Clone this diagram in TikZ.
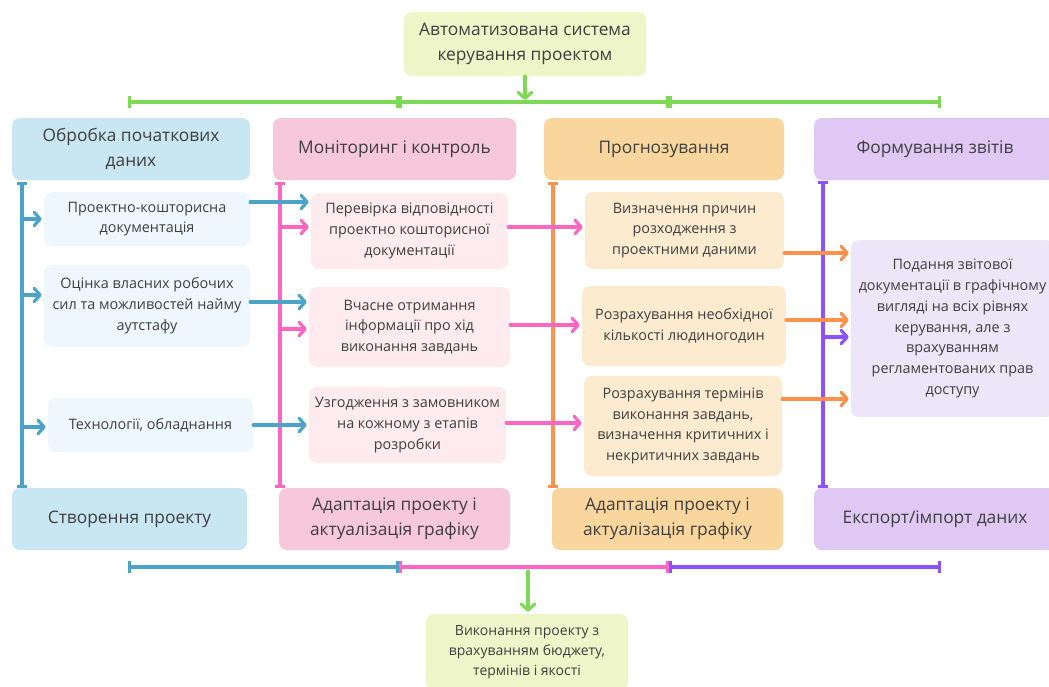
\documentclass[tikz,border=0pt]{standalone}
\usepackage{fontspec}
\setmainfont{Open Sans}
\usetikzlibrary{arrows.meta}
\definecolor{txt}{HTML}{3F3F3F}
\definecolor{fgreen}{HTML}{EEF5C9}
\definecolor{fblue}{HTML}{C9E6F3}
\definecolor{fpink}{HTML}{F7C7DA}
\definecolor{forange}{HTML}{F9D69D}
\definecolor{fpurple}{HTML}{DFC9F4}
\definecolor{lblue}{HTML}{EDF7FD}
\definecolor{lpink}{HTML}{FDEBF0}
\definecolor{lorange}{HTML}{FDEBD0}
\definecolor{lpurple}{HTML}{EDE5F8}
\definecolor{cgreen}{HTML}{7ED957}
\definecolor{cblue}{HTML}{4BA3C7}
\definecolor{cpink}{HTML}{FF66C4}
\definecolor{corange}{HTML}{FF914D}
\definecolor{cpurple}{HTML}{8C52FF}
\begin{document}
\begin{tikzpicture}[x=0.75pt,y=-0.75pt,
  box/.style n args={4}{at={({(#1+#3)/2},{(#2+#4)/2})},
    minimum width={(#3-#1)*0.75pt}, minimum height={(#4-#2)*0.75pt},
    rounded corners=6pt, inner sep=0pt, align=center, text=txt},
  hdr/.style={font=\fontsize{13}{19}\selectfont},
  sub/.style={font=\fontsize{10.8}{15.6}\selectfont},
  fin/.style={font=\fontsize{10.5}{15}\selectfont},
  ln/.style={line width=2.6pt, line cap=round},
  arr/.style={ln, -{Straight Barb[length=4.5pt,width=10pt,line width=2.4pt,round]}, shorten >=1.5pt},
  tee/.style={ln, {Bar[width=7pt,line width=2.4pt]}-{Bar[width=7pt,line width=2.4pt]}},
  tick/.style={ln, {Bar[width=9pt,line width=2.2pt]}-{Bar[width=9pt,line width=2.2pt]}}]
\useasboundingbox (0,0) rectangle (1049,686);

% top and final
\node[box={404}{12}{646}{76}, fill=fgreen, hdr] (top) {Автоматизована система\\керування проектом};
\node[box={426}{614}{628}{690}, fill=fgreen, fin] (final) {Виконання проекту з\\врахуванням бюджету,\\термінів і якості};

% headers
\node[box={12}{118}{250}{180}, fill=fblue, hdr] (h1) {Обробка початкових\\даних};
\node[box={273}{118}{516}{180}, fill=fpink, hdr] (h2) {Моніторинг і контроль};
\node[box={544}{118}{784}{180}, fill=forange, hdr] (h3) {Прогнозування};
\node[box={814}{118}{1056}{180}, fill=fpurple, hdr] (h4) {Формування звітів};

% bottom boxes
\node[box={12}{488}{247}{550}, fill=fblue, hdr] (f1) {Створення проекту};
\node[box={279}{488}{510}{550}, fill=fpink, hdr] (f2) {Адаптація проекту і\\актуалізація графіку};
\node[box={552}{488}{783}{550}, fill=forange, hdr] (f3) {Адаптація проекту і\\актуалізація графіку};
\node[box={814}{488}{1056}{550}, fill=fpurple, hdr] (f4) {Експорт/імпорт даних};

% sub boxes
\node[box={44}{192}{250}{246}, fill=lblue, sub] (s11) {Проектно-кошторисна\\документація};
\node[box={44}{265}{250}{347}, fill=lblue, sub] (s12) {Оцінка власних робочих\\сил та можливостей найму\\аутстафу};
\node[box={48}{398}{253}{452}, fill=lblue, sub] (s13) {Технології, обладнання};
\node[box={311}{193}{508}{269}, fill=lpink, sub] (s21) {Перевірка відповідності\\проектно кошторисної\\документації};
\node[box={309}{287}{510}{367}, fill=lpink, sub] (s22) {Вчасне отримання\\інформації про хід\\виконання завдань};
\node[box={309}{387}{506}{463}, fill=lpink, sub] (s23) {Узгодження з замовником\\на кожному з етапів\\розробки};
\node[box={585}{192}{784}{269}, fill=lorange, sub] (s31) {Визначення причин\\розходження з\\проектними даними};
\node[box={582}{286}{786}{366}, fill=lorange, sub] (s32) {Розрахування необхідної\\кількості людиногодин};
\node[box={584}{376}{782}{476}, fill=lorange, sub] (s33) {Розрахування термінів\\виконання завдань,\\визначення критичних і\\некритичних завдань};
\node[box={851}{240}{1054}{417}, fill=lpurple, sub] (s41) {Подання звітової\\документації в графічному\\вигляді на всіх рівнях\\керування, але з\\врахуванням\\регламентованих прав\\доступу};

% reference coordinates
\coordinate (busT) at (0,102);
\coordinate (busB) at (0,567);
\coordinate (t1) at (128,0);
\coordinate (t2) at (399,0);
\coordinate (t3) at (669,0);
\coordinate (t4) at (941,0);
\coordinate (vx1) at (22,0);
\coordinate (vx2) at (280,0);
\coordinate (vx3) at (553,0);
\coordinate (vx4) at (823,0);
\coordinate (finx) at (528,0);

% top bus
\draw[arr, cgreen] (top.south) -- (top.south |- busT);
\draw[tick, cgreen] (t1 |- busT) -- (t2 |- busT);
\draw[tick, cgreen] (t2 |- busT) -- (t3 |- busT);
\draw[tick, cgreen] (t3 |- busT) -- (t4 |- busT);

% bottom bus
\draw[tick, cblue] (t1 |- busB) -- (t2 |- busB);
\draw[tick, cpink] (t2 |- busB) -- (t3 |- busB);
\draw[tick, cpurple] (t3 |- busB) -- (t4 |- busB);
\draw[arr, cgreen] (finx |- busB) ++(0,4) -- (finx |- final.north);

% vertical lines
\draw[tee, cblue] (vx1 |- h1.south) ++(0,2) -- (vx1 |- f1.north);
\draw[tee, cpink] (vx2 |- h2.south) ++(0,2) -- (vx2 |- f2.north);
\draw[tee, corange] (vx3 |- h3.south) ++(0,2) -- (vx3 |- f3.north);
\draw[tee, cpurple] (vx4 |- h4.south) ++(0,1) -- (vx4 |- f4.north);

% arrow levels
\coordinate (yb1) at (0,219);
\coordinate (yb2) at (0,295);
\coordinate (yb3) at (0,427);
\coordinate (yc1) at (0,202);
\coordinate (yc2) at (0,302);
\coordinate (yc3) at (0,425);
\coordinate (yp1) at (0,227);
\coordinate (yp2) at (0,329);
\coordinate (yq1) at (0,227);
\coordinate (yq2) at (0,325);
\coordinate (yq3) at (0,423);
\coordinate (yo1) at (0,253);
\coordinate (yo2) at (0,320);
\coordinate (yo3) at (0,399);
\coordinate (yv1) at (0,337);

% blue
\draw[arr, cblue] (vx1 |- yb1) -- (s11.west |- yb1);
\draw[arr, cblue] (vx1 |- yb2) -- (s12.west |- yb2);
\draw[arr, cblue] (vx1 |- yb3) -- (s13.west |- yb3);
\draw[arr, cblue] (s11.east |- yc1) -- (s21.west |- yc1);
\draw[arr, cblue] (s12.east |- yc2) -- (s22.west |- yc2);
\draw[arr, cblue] (s13.east |- yc3) -- (s23.west |- yc3);

% pink
\draw[arr, cpink] (vx2 |- yp1) -- (s21.west |- yp1);
\draw[arr, cpink] (vx2 |- yp2) -- (s22.west |- yp2);
\draw[arr, cpink] (s21.east |- yq1) -- (s31.west |- yq1);
\draw[arr, cpink] (s22.east |- yq2) -- (s32.west |- yq2);
\draw[arr, cpink] (s23.east |- yq3) -- (s33.west |- yq3);

% orange
\draw[arr, corange] (s31.east |- yo1) -- (s41.west |- yo1);
\draw[arr, corange] (s32.east |- yo2) -- (s41.west |- yo2);
\draw[arr, corange] (s33.east |- yo3) -- (s41.west |- yo3);

% purple
\draw[arr, cpurple] (vx4 |- yv1) -- (s41.west |- yv1);
\end{tikzpicture}
\end{document}
